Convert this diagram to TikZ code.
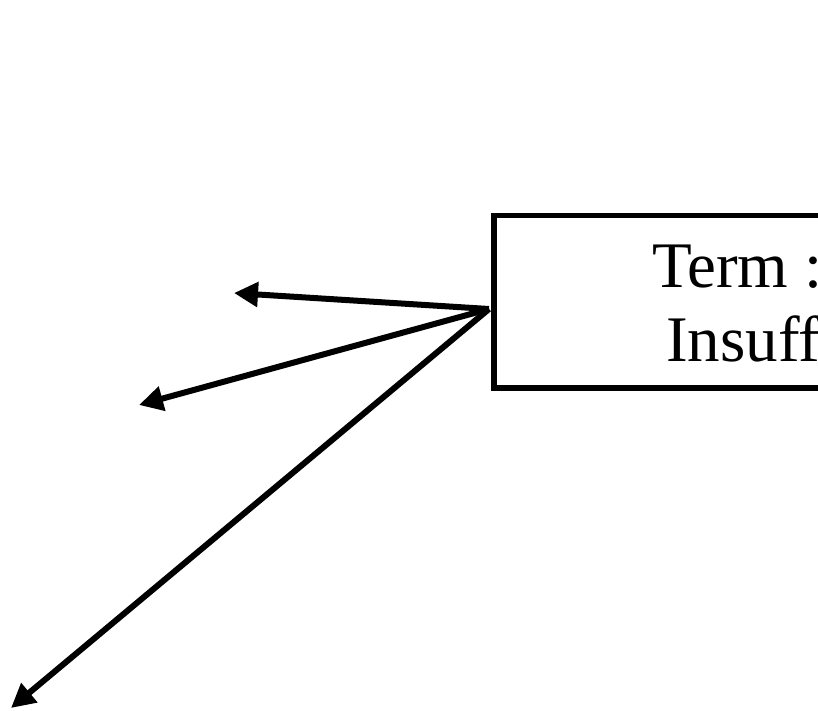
\documentclass[tikz,border=0pt]{standalone}
\usepackage{fontspec}
\setmainfont{Liberation Serif}
\usetikzlibrary{arrows.meta}
\begin{document}
\begin{tikzpicture}[x=1pt,y=-1pt,
  boxstyle/.style={draw=black, line width=5.5pt, minimum width=700pt, minimum height=172pt, inner sep=0pt, anchor=north west},
  labelstyle/.style={font=\fontsize{65}{76}\selectfont, inner sep=0pt, anchor=base west},
  arrowstyle/.style={draw=black, line width=6pt, -{Triangle[length=24pt,width=24pt]}}]
\useasboundingbox (0,0) rectangle (818,711);
\clip (0,0) rectangle (818,711);
\node[boxstyle] (box) at (491,213) {};
\node[labelstyle] (t1) at (652,287) {Term :};
\node[labelstyle] (t2) at (666,361) {Insuff};
\coordinate (src) at (489,309);
\coordinate (a1) at (234,293);
\coordinate (a2) at (139,405);
\coordinate (a3) at (11,708);
\draw[arrowstyle] (src) -- (a1);
\draw[arrowstyle] (src) -- (a2);
\draw[arrowstyle] (src) -- (a3);
\end{tikzpicture}
\end{document}
